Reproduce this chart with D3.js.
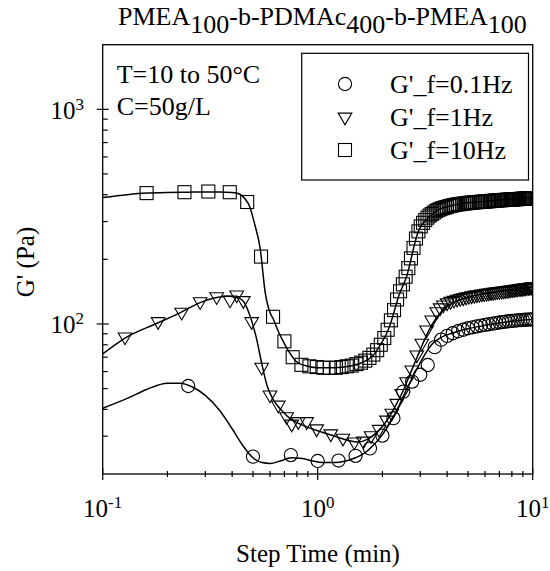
<!DOCTYPE html>
<html><head><meta charset="utf-8">
<script src="https://cdn.jsdelivr.net/npm/d3@7"></script>
<style>body{margin:0;background:#fff}</style>
</head><body>
<svg id="c" width="550" height="571"></svg>
<script>
// ---- data ----
const xTickVals = [0.1, 1, 10];
const xTickExp = ["-1", "0", "1"];
const yTickVals = [100, 1000];
const yTickExp = ["2", "3"];
const seriesNames = ["G'_f=0.1Hz", "G'_f=1Hz", "G'_f=10Hz"];

// G' at f=0.1 Hz (circles)
const cirT = [0.25,0.5,0.75,1.0,1.25,1.5,1.75,2.0,2.25,2.5,2.75,3.0,3.25,3.5,3.75,4.0,4.25,4.5,4.75,5.0,5.25,5.5,5.75,6.0,6.25,6.5,6.75,7.0,7.25,7.5,7.75,8.0,8.25,8.5,8.75,9.0,9.25,9.5,9.75,10.0];
const cirV = [51.4,24.1,24.5,23.0,23.1,24.3,26.3,30.2,36.4,48.4,53.9,58,64.4,78,84.5,88,90.5,92.5,94,95.5,96.5,97.5,98.3,99,99.7,100.4,101,101.6,102.1,102.6,103,103.4,103.7,104,104.2,104.4,104.6,104.8,105,105.1];

// G' at f=1 Hz (triangles)
const triT = [0.127,0.181,0.233,0.284,0.339,0.391,0.42,0.451,0.493,0.549,0.60,0.656,0.717,0.757,0.812,0.889,0.989,1.15,1.31,1.48,1.63,1.77,1.93,2.09,2.21,2.33,2.46,2.59,2.74,2.89,3.05,3.21,3.39,3.58,3.71,3.84,4.0,4.15,4.3,4.45,4.6,4.75,4.9,5.05,5.2,5.35,5.5,5.65,5.8,5.95,6.1,6.25,6.4,6.55,6.7,6.85,7.0,7.15,7.3,7.45,7.6,7.75,7.9,8.05,8.2,8.35,8.5,8.65,8.8,8.95,9.1,9.25,9.4,9.55,9.7,9.85,10.0];
const triV = [87,102.6,113.5,127,134,129.5,136.6,128.6,102.6,62.9,46.7,41.9,37.0,34.2,35.1,35.1,32.5,30.8,29.4,28.2,28.5,30.2,32.3,35.7,38.4,42.7,47.5,53.9,61.1,71.8,81.4,93.9,104.5,114.2,119,122.7,125.5,127.5,129,130.5,131.5,132.5,133.5,134.5,135.3,136,136.7,137.3,138,138.5,139,139.5,140,140.5,141,141.4,141.8,142.2,142.6,143,143.4,143.8,144.2,144.6,145,145.3,145.6,146,146.3,146.6,147,147.3,147.6,148,148.3,148.6,149];

// G' at f=10 Hz (squares)
const sqT = [0.16,0.24,0.31,0.39,0.47,0.545,0.62,0.70,0.765,0.84,0.915,0.99,1.065,1.14,1.215,1.29,1.365,1.44,1.515,1.59,1.665,1.74,1.815,1.89,1.965,2.04,2.115,2.19,2.265,2.34,2.415,2.49,2.565,2.64,2.715,2.79,2.865,2.94,3.015,3.09,3.165,3.24,3.315,3.39,3.465,3.54,3.615,3.69,3.765,3.84,3.915,3.99,4.1,4.2,4.3,4.4,4.5,4.6,4.7,4.8,4.9,5.0,5.1,5.2,5.3,5.4,5.5,5.6,5.7,5.8,5.9,6.0,6.1,6.2,6.3,6.4,6.5,6.6,6.7,6.8,6.9,7.0,7.1,7.2,7.3,7.4,7.5,7.6,7.7,7.8,7.9,8.0,8.1,8.2,8.3,8.4,8.5,8.6,8.7,8.8,8.9,9.0,9.1,9.2,9.3,9.4,9.5,9.6,9.7,9.8,9.9,10.0];
const sqV = [407,411,414,411,370,206,108,83,70,64.5,63.5,63,62.5,62.5,62.5,63,63.5,64,65,66,67.5,69.5,72,75.5,80,86,94,104,116,130,142,153,166,182,202,226,250,270,285,296,305,313,320,325,330,335,339,342,345,347,349,351,354,356,358,359.5,361,362,363,364,365,366,367,367.5,368,369,369.5,370,370.5,371,371.5,372,372.5,373,373.5,374,374.5,375,375.5,376,376.5,377,377.3,377.6,378,378.3,378.6,379,379.3,379.6,380,380.3,380.6,381,381.2,381.5,381.8,382,382.3,382.6,382.8,383,383.3,383.5,383.8,384,384.2,384.5,384.7,385,385.2,385.5];

// smooth fitted curves
const fitCirT = [0.1,0.13,0.16,0.2,0.23,0.26,0.3,0.35,0.4,0.45,0.5,0.55,0.6,0.67,0.75,0.85,0.95,1.05,1.2,1.35,1.5,1.65,1.8,2.0,2.2,2.4,2.6,2.8,3.0,3.2,3.4,3.7,4.0,4.5,5,6,7,8,9,10];
const fitCirV = [40.5,45,49.5,53,53,51,46.5,39.5,32.5,27,23.8,22.6,22.4,23,23.8,23.6,23,22.6,22.6,23,23.8,25,27,30.5,35.5,42,50,58,66,74,80.5,86,89,92.5,95,98.5,101,103,104.3,105];
const fitTriT = [0.1,0.127,0.18,0.23,0.28,0.33,0.38,0.42,0.45,0.48,0.52,0.55,0.58,0.62,0.68,0.75,0.85,1.0,1.2,1.4,1.55,1.7,1.9,2.1,2.3,2.5,2.7,2.9,3.1,3.3,3.6,3.9,4.3,5,6,7,8,9,10];
const fitTriV = [72.5,86,101,113,125,132,134.5,133,128,112,85,65,52,44.5,39.5,36,33.8,31.8,30,28.6,28.2,29,31.5,35.5,41.5,49,59,70,82,94,108,118,126,133,138.5,142,144.5,146.5,148.5];
const fitSqT = [0.1,0.13,0.16,0.2,0.25,0.3,0.35,0.4,0.43,0.46,0.483,0.51,0.54,0.57,0.6,0.62,0.66,0.7,0.75,0.8,0.9,1.0,1.2,1.4,1.6,1.8,2.0,2.1,2.2,2.3,2.4,2.5,2.6,2.7,2.8,2.9,3.0,3.2,3.4,3.6,3.8,4.0,4.5,5,6,7,8,9,10];
const fitSqV = [388,400,407,410,411,412,412,410,404,382,352,290,225,140,113,106,91,81,72,66.5,63.5,62.5,62.5,63.5,66,71,83,91,103,120,138,152,168,195,228,260,282,306,324,338,347,352,361,367,373,378,381,383,385];

// ---- layout ----
const svg = d3.select("#c");
const FONT = "'Liberation Serif','Times New Roman',serif";
const L = 102.7, R = 532.7, T = 44.7, B = 474;
const x = d3.scaleLog().domain([0.1, 10]).range([L, R]);
const y = d3.scaleLog().domain([20, 2000]).range([B, T]);

svg.append("defs").append("clipPath").attr("id","clip")
  .append("rect").attr("x",L).attr("y",T).attr("width",R-L).attr("height",B-T);

// title
const title = svg.append("text").attr("x",118).attr("y",25)
  .attr("font-family",FONT).attr("font-size",26).attr("fill","#000");
[["PMEA",0],["100",8],["-b-PDMAc",-8],["400",8],["-b-PMEA",-8],["100",8]].forEach(([s,dy])=>{
  title.append("tspan").attr("dy",dy).text(s);
});

// frame
svg.append("rect").attr("x",L).attr("y",T).attr("width",R-L).attr("height",B-T)
  .attr("fill","none").attr("stroke","#000").attr("stroke-width",1.3);

// x ticks
const xt = svg.append("g").attr("stroke","#000").attr("stroke-width",1.2);
x.ticks().forEach(v=>{
  const major = xTickVals.some(m=>Math.abs(m-v)<1e-9);
  const px = x(v);
  if(major) xt.append("line").attr("x1",px).attr("x2",px).attr("y1",B-6).attr("y2",B+6);
  else xt.append("line").attr("x1",px).attr("x2",px).attr("y1",B-3).attr("y2",B+3);
});
// y ticks
const yt = svg.append("g").attr("stroke","#000").attr("stroke-width",1.2);
y.ticks().forEach(v=>{
  const major = yTickVals.some(m=>Math.abs(m-v)<1e-9);
  const py = y(v);
  if(py < T+0.5 || py > B-0.5) return;
  if(major) yt.append("line").attr("x1",L-6).attr("x2",L+6).attr("y1",py).attr("y2",py);
  else yt.append("line").attr("x1",L).attr("x2",L+5).attr("y1",py).attr("y2",py);
});

// x tick labels
xTickVals.forEach((v,i)=>{
  const t = svg.append("text").attr("x",x(v)).attr("y",517).attr("text-anchor","middle")
    .attr("font-family",FONT).attr("font-size",25).attr("fill","#000");
  t.append("tspan").text("10");
  t.append("tspan").attr("dy",-9).attr("font-size",17).text(xTickExp[i]);
});
// y tick labels
yTickVals.forEach((v,i)=>{
  const t = svg.append("text").attr("x",84).attr("y",y(v)+9.5).attr("text-anchor","end")
    .attr("font-family",FONT).attr("font-size",25).attr("fill","#000");
  t.append("tspan").text("10");
  t.append("tspan").attr("dy",-9).attr("font-size",17).text(yTickExp[i]);
});

// axis titles
svg.append("text").attr("x",318).attr("y",562).attr("text-anchor","middle")
  .attr("font-family",FONT).attr("font-size",25).attr("fill","#000").text("Step Time (min)");
svg.append("text").attr("transform","translate(34,262) rotate(-90)").attr("text-anchor","middle")
  .attr("font-family",FONT).attr("font-size",25).attr("fill","#000").text("G' (Pa)");

// annotation
svg.append("text").attr("x",116.7).attr("y",83.3).attr("font-family",FONT).attr("font-size",26).text("T=10 to 50°C");
svg.append("text").attr("x",116.7).attr("y",115).attr("font-family",FONT).attr("font-size",26).text("C=50g/L");

// plot content
const plot = svg.append("g").attr("clip-path","url(#clip)");
const line = d3.line().x(d=>x(d[0])).y(d=>y(d[1])).curve(d3.curveMonotoneX);
const zip = (a,b)=>a.map((v,i)=>[v,b[i]]);
[[fitCirT,fitCirV],[fitTriT,fitTriV],[fitSqT,fitSqV]].forEach(([a,b])=>{
  plot.append("path").datum(zip(a,b)).attr("d",line)
    .attr("fill","none").attr("stroke","#000").attr("stroke-width",1.5);
});

const triPath = "M-6.8,-3.9L6.8,-3.9L0,7.8Z";
function marker(g, kind, cx, cy){
  if(kind===0) g.append("circle").attr("cx",cx).attr("cy",cy).attr("r",6.6);
  else if(kind===1) g.append("path").attr("d",triPath).attr("transform",`translate(${cx},${cy})`);
  else g.append("rect").attr("x",cx-6.5).attr("y",cy-6.5).attr("width",13).attr("height",13);
}
const mk = plot.append("g").attr("fill","none").attr("stroke","#000").attr("stroke-width",1.1);
[[cirT,cirV],[triT,triV],[sqT,sqV]].forEach(([a,b],k)=>{
  zip(a,b).forEach(d=>marker(mk,k,x(d[0]),y(d[1])));
});

// legend
const lg = svg.append("g");
lg.append("rect").attr("x",301.7).attr("y",53.3).attr("width",226.8).attr("height",126.7)
  .attr("fill","#fff").attr("stroke","#000").attr("stroke-width",1.2);
const lm = lg.append("g").attr("fill","none").attr("stroke","#000").attr("stroke-width",1.1);
const rowY = [84, 117, 150];
seriesNames.forEach((n,i)=>{
  marker(lm, i, 345, rowY[i]);
  lg.append("text").attr("x",390).attr("y",rowY[i]+9.3).attr("font-family",FONT)
    .attr("font-size",26).attr("fill","#000").text(n);
});
</script></body></html>
